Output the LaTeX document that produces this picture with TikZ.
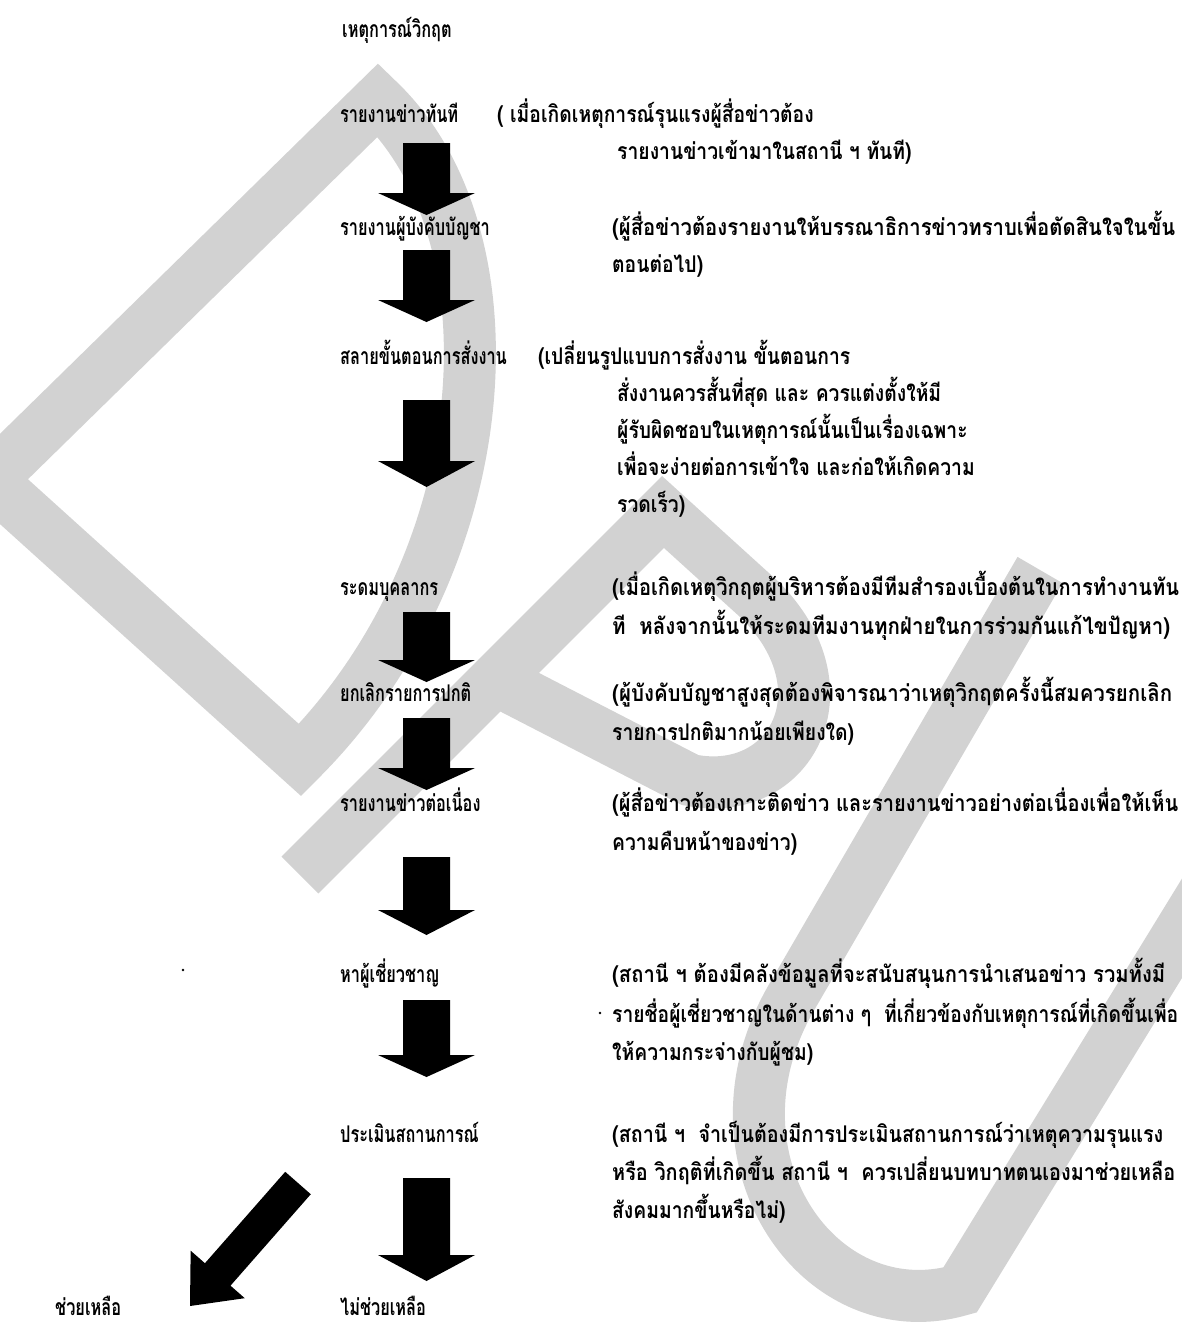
\documentclass[tikz,border=0pt]{standalone}
\usepackage{fontspec}
\usepackage{graphicx}
\newfontfamily\thfont[Script=Thai,FakeStretch=0.71]{Loma}
\newfontfamily\thwide[Script=Thai,FakeStretch=0.84]{Loma}
\usetikzlibrary{calc}
\definecolor{wmgray}{RGB}{210,210,210}
\tikzset{
  lab/.style={anchor=base west, inner sep=0pt, font=\thfont\bfseries\fontsize{23}{26}\selectfont},
  desc/.style={anchor=base west, inner sep=0pt, font=\thwide\bfseries\fontsize{23}{26}\selectfont},
  wm/.style={draw=wmgray, line width=52pt, line join=miter, miter limit=10},
  blk/.style={fill=black},
}
% stretch a full (justified) line to a given width, keeping its height
\newcommand\fitto[2]{\resizebox{#1}{\height}{#2}}
\newcommand\blockarrow[5]{%
  \coordinate (hb-#2) at ($(#2)!#5!(#1)$);
  \fill[blk] ($(#1)!#3!90:(#2)$) -- ($(hb-#2)!#3!90:(#2)$) -- ($(hb-#2)!#4!90:(#2)$) -- (#2)
    -- ($(hb-#2)!#4!-90:(#2)$) -- ($(hb-#2)!#3!-90:(#2)$) -- ($(#1)!#3!-90:(#2)$) -- cycle;
}
\begin{document}
\begin{tikzpicture}[x=1pt,y=-1pt]
\fill[white] (0,0) rectangle (1182,1325);
\useasboundingbox (0,0) rectangle (1182,1325);
% watermark DPU
\begin{scope}
\clip (0,0) rectangle (1182,1325);
\draw[wm] (-10,480) -- (378,100) .. controls (520,235) and (500,560) .. (300,760) -- cycle;
\draw[wm] (300,875) -- (663,512) -- (760,600) .. controls (850,690) and (790,800) .. (690,780) -- (494,679);
\draw[wm] (1040,570) -- (790,1000) .. controls (700,1160) and (820,1330) .. (960,1290) -- (1230,850);
\end{scope}
% labels
\node[lab] (t0) at (342,37) {เหตุการณ์วิกฤต};
\node[lab] (s1) at (340,122) {รายงานข่าวทันที};
\node[desc] (d1a) at (497,122) {( เมื่อเกิดเหตุการณ์รุนแรงผู้สื่อข่าวต้อง};
\node[desc] (d1b) at (617,159) {รายงานข่าวเข้ามาในสถานี ฯ ทันที)};
\node[lab] (s2) at (340,235) {รายงานผู้บังคับบัญชา};
\node[desc] (d2a) at (612,235) {\fitto{563pt}{(ผู้สื่อข่าวต้องรายงานให้บรรณาธิการข่าวทราบเพื่อตัดสินใจในขั้น}};
\node[desc] (d2b) at (612,272) {ตอนต่อไป)};
\node[lab] (s3) at (340,364) {สลายขั้นตอนการสั่งงาน};
\node[desc] (d3a) at (538,364) {(เปลี่ยนรูปแบบการสั่งงาน ขั้นตอนการ};
\node[desc] (d3b) at (617,401) {สั่งงานควรสั้นที่สุด และ ควรแต่งตั้งให้มี};
\node[desc] (d3c) at (617,438) {ผู้รับผิดชอบในเหตุการณ์นั้นเป็นเรื่องเฉพาะ};
\node[desc] (d3d) at (617,475) {เพื่อจะง่ายต่อการเข้าใจ และก่อให้เกิดความ};
\node[desc] (d3e) at (617,512) {รวดเร็ว)};
\node[lab] (s4) at (340,595) {ระดมบุคลากร};
\node[desc] (d4a) at (612,595) {\fitto{567pt}{(เมื่อเกิดเหตุวิกฤตผู้บริหารต้องมีทีมสำรองเบื้องต้นในการทำงานทัน}};
\node[desc] (d4b) at (612,634) {\fitto{558pt}{ที\ \ หลังจากนั้นให้ระดมทีมงานทุกฝ่ายในการร่วมกันแก้ไขปัญหา)}};
\node[lab] (s5) at (340,701) {ยกเลิกรายการปกติ};
\node[desc] (d5a) at (612,701) {\fitto{560pt}{(ผู้บังคับบัญชาสูงสุดต้องพิจารณาว่าเหตุวิกฤตครั้งนี้สมควรยกเลิก}};
\node[desc] (d5b) at (612,740) {รายการปกติมากน้อยเพียงใด)};
\node[lab] (s6) at (340,811) {รายงานข่าวต่อเนื่อง};
\node[desc] (d6a) at (612,811) {\fitto{566pt}{(ผู้สื่อข่าวต้องเกาะติดข่าว และรายงานข่าวอย่างต่อเนื่องเพื่อให้เห็น}};
\node[desc] (d6b) at (612,850) {ความคืบหน้าของข่าว)};
\node[lab] (s7) at (340,982) {หาผู้เชี่ยวชาญ};
\node[desc] (d7a) at (612,982) {\fitto{553pt}{(สถานี ฯ ต้องมีคลังข้อมูลที่จะสนับสนุนการนำเสนอข่าว รวมทั้งมี}};
\node[desc] (d7b) at (612,1022) {\fitto{566pt}{รายชื่อผู้เชี่ยวชาญในด้านต่าง ๆ\ \ ที่เกี่ยวข้องกับเหตุการณ์ที่เกิดขึ้นเพื่อ}};
\node[desc] (d7c) at (612,1060) {ให้ความกระจ่างกับผู้ชม)};
\node[lab] (s8) at (340,1142) {ประเมินสถานการณ์};
\node[desc] (d8a) at (612,1142) {\fitto{551pt}{(สถานี ฯ\ \ จำเป็นต้องมีการประเมินสถานการณ์ว่าเหตุความรุนแรง}};
\node[desc] (d8b) at (612,1180) {\fitto{563pt}{หรือ วิกฤติที่เกิดขึ้น สถานี ฯ\ \ ควรเปลี่ยนบทบาทตนเองมาช่วยเหลือ}};
\node[desc] (d8c) at (612,1218) {สังคมมากขึ้นหรือไม่)};
\node[lab] (yes) at (55,1315) {ช่วยเหลือ};
\node[lab] (no) at (340,1315) {ไม่ช่วยเหลือ};
% stray marks
\fill (183,970) circle (1.3);
\fill (600,1013) circle (1.3);
% arrows
\coordinate (a1s) at (426.5,143); \coordinate (a1t) at (426.5,215);
\coordinate (a2s) at (426.5,250); \coordinate (a2t) at (426.5,322);
\coordinate (a3s) at (426.5,400); \coordinate (a3t) at (426.5,487);
\coordinate (a4s) at (426.5,612); \coordinate (a4t) at (426.5,682);
\coordinate (a5s) at (426.5,718); \coordinate (a5t) at (426.5,790);
\coordinate (a6s) at (426.5,857); \coordinate (a6t) at (426.5,935);
\coordinate (a7s) at (426.5,1000); \coordinate (a7t) at (426.5,1077);
\coordinate (a8s) at (426.5,1178); \coordinate (a8t) at (426.5,1281);
\coordinate (a9s) at (298,1183); \coordinate (a9t) at (190,1306);
\blockarrow{a1s}{a1t}{23.5pt}{48.5pt}{22pt}
\blockarrow{a2s}{a2t}{23.5pt}{48.5pt}{22pt}
\blockarrow{a3s}{a3t}{23.5pt}{48.5pt}{26pt}
\blockarrow{a4s}{a4t}{23.5pt}{48.5pt}{22pt}
\blockarrow{a5s}{a5t}{23.5pt}{48.5pt}{22pt}
\blockarrow{a6s}{a6t}{23.5pt}{48.5pt}{25pt}
\blockarrow{a7s}{a7t}{23.5pt}{48.5pt}{22pt}
\blockarrow{a8s}{a8t}{23.5pt}{48.5pt}{26pt}
\blockarrow{a9s}{a9t}{17pt}{36pt}{42pt}
\end{tikzpicture}
\end{document}
